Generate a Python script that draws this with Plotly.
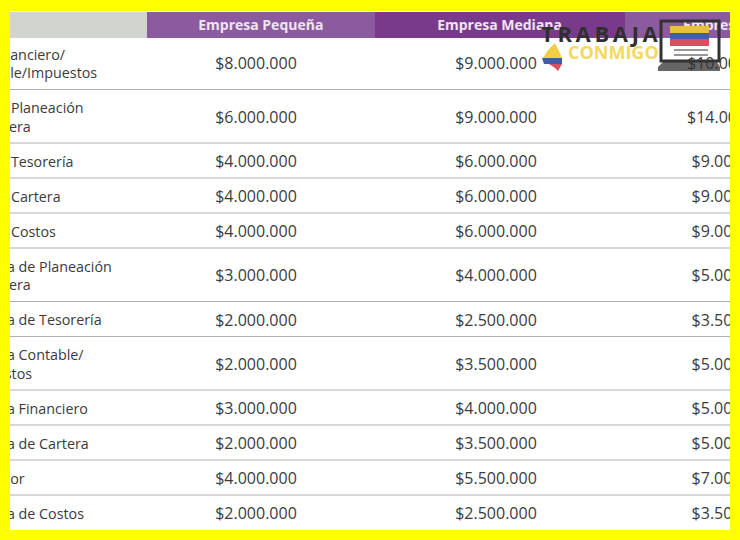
import numpy as np
import plotly.graph_objects as go

roles = ["Jefe Financiero/<br>Contable/Impuestos", "Jefe de Planeación<br>Financiera", "Jefe de Tesorería",
         "Jefe de Cartera", "Jefe de Costos", "Analista de Planeación<br>Financiera", "Analista de Tesorería",
         "Analista Contable/<br>Impuestos", "Analista Financiero", "Analista de Cartera", "Contador", "Analista de Costos"]
pequena = ["$8.000.000", "$6.000.000", "$4.000.000", "$4.000.000", "$4.000.000", "$3.000.000", "$2.000.000",
           "$2.000.000", "$3.000.000", "$2.000.000", "$4.000.000", "$2.000.000"]
mediana = ["$9.000.000", "$9.000.000", "$6.000.000", "$6.000.000", "$6.000.000", "$4.000.000", "$2.500.000",
           "$3.500.000", "$4.000.000", "$3.500.000", "$5.500.000", "$2.500.000"]
grande = ["$10.000.000", "$14.000.000", "$9.000.000", "$9.000.000", "$9.000.000", "$5.000.000", "$3.500.000",
          "$5.000.000", "$5.000.000", "$5.000.000", "$7.000.000", "$3.500.000"]
headers = ["Empresa Pequeña", "Empresa Mediana", "Empresa Grande"]

TXT = "#3b3b3d"
heights = np.array([53.5 if "<br>" in r else 35 for r in roles])
edges = 36 + np.concatenate([[0], np.cumsum(heights)])
centers = (edges[:-1] + edges[1:]) / 2 + 2.6

fig = go.Figure()
fig.add_trace(go.Scatter(x=[-0.225] * len(roles), y=centers, mode="text", text=roles, textposition="middle right",
                         textfont=dict(family="Open Sans", size=14.3, color=TXT), hoverinfo="skip"))
for col, vals in zip([1, 2, 2.985], [pequena, mediana, grande]):
    fig.add_trace(go.Scatter(x=[col] * len(vals), y=centers, mode="text", text=vals, textposition="middle center",
                             textfont=dict(family="Open Sans", size=16, color=TXT), hoverinfo="skip"))
fig.add_trace(go.Scatter(x=[1.02, 2.015, 3.02], y=[26, 26, 26], mode="text", text=[f"<b>{h}</b>" for h in headers],
                         textposition="middle center", textfont=dict(family="Open Sans", size=14, color="#efe4f1"),
                         hoverinfo="skip"))

def rect(x0, y0, x1, y1, color, layer="below", **kw):
    return dict(type="rect", xref="paper", yref="y", x0=x0 / 740, x1=x1 / 740, y0=y0, y1=y1, fillcolor=color,
                line=dict(width=kw.get("lw", 0), color=kw.get("lc", color)), layer=layer)

def poly(points, color, opacity=1):
    pts = [((x - 16) / 240, y) for x, y in points]
    d = "M" + " L".join(f"{x} {y}" for x, y in pts) + " Z"
    return dict(type="path", xref="x", yref="y", path=d, fillcolor=color, line=dict(width=0), layer="above",
                opacity=opacity)

shapes = [rect(10, 12, 147, 38, "#d2d4d0"), rect(147, 12, 375, 38, "#8c5a9e"),
          rect(375, 12, 625, 38, "#7a3a8c"), rect(625, 12, 730, 38, "#8c5a9e")]
for e in edges[1:-1]:
    shapes.append(dict(type="line", xref="paper", yref="y", x0=0, x1=1, y0=e, y1=e,
                       line=dict(color="#b3aeb6", width=1.2), layer="below"))
# laptop watermark
shapes += [rect(661, 21, 719, 61, "rgba(0,0,0,0)", "above", lw=3, lc="#333333"),
           rect(670, 26, 709, 33, "#e8c23c", "above"), rect(670, 33, 709, 39, "#3f5fa8", "above"),
           rect(670, 39, 709, 46, "#d8505f", "above"),
           rect(674, 49, 708, 51, "#999999", "above"), rect(674, 54, 708, 56, "#999999", "above"),
           poly([(663, 62), (717, 62), (720, 67), (720, 71), (658, 71), (658, 67)], "#333333", 0.75),
           # Colombia map
           poly([(555, 43), (559, 51), (562, 58), (543, 58), (548, 50)], "#f2cf46"),
           poly([(542, 58), (562, 58), (562, 64), (544, 64)], "#3f5fa8"),
           poly([(549, 64), (562, 64), (558, 71), (555, 68)], "#d8505f")]
# yellow frame on top
shapes += [rect(0, 0, 740, 11, "#ffff00", "above"), rect(0, 530, 740, 540, "#ffff00", "above"),
           rect(0, 0, 10, 540, "#ffff00", "above"), rect(730, 0, 740, 540, "#ffff00", "above")]

annotations = [
    dict(xref="paper", yref="y", x=599.5 / 740, y=33, xanchor="center",
         text="<b>T\u2009R\u2009A\u2009B\u2009A\u2009J\u2009A</b>",
         showarrow=False, font=dict(family="Open Sans", size=22, color="#2f2f2f")),
    dict(xref="paper", yref="y", x=613 / 740, y=52, xanchor="center", text="<b>CONMIGO</b>", showarrow=False,
         font=dict(family="Open Sans", size=18, color="#f5d860")),
]

fig.update_layout(width=740, height=540, margin=dict(l=0, r=0, t=0, b=0), paper_bgcolor="#ffffff",
                  plot_bgcolor="#ffffff", showlegend=False, shapes=shapes, annotations=annotations,
                  xaxis=dict(range=[-16 / 240, 724 / 240], visible=False, fixedrange=True),
                  yaxis=dict(range=[540, 0], visible=False, fixedrange=True))
fig.write_html("out.html", config=dict(displayModeBar=False),
               post_script="document.body.style.margin='0';document.body.style.overflow='hidden';")
